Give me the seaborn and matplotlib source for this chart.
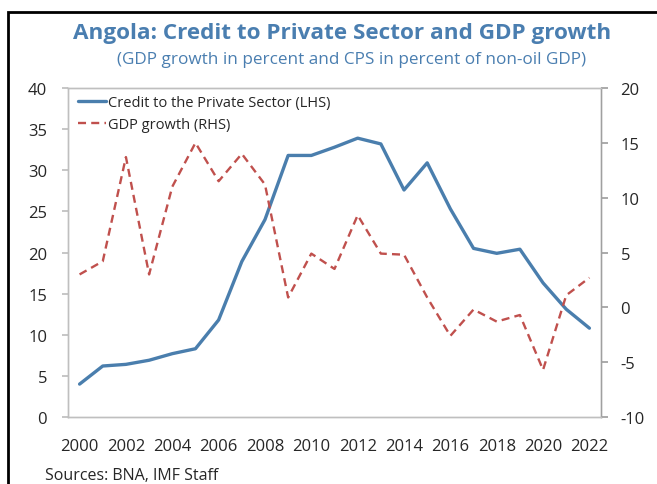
import matplotlib
matplotlib.use("Agg")
import matplotlib.pyplot as plt
import seaborn as sns
import pandas as pd
import numpy as np
from matplotlib.patches import Rectangle

years = [str(y) for y in range(2000, 2023)]
cps = [4.0, 6.2, 6.4, 6.9, 7.7, 8.3, 11.8, 18.9, 24.0, 31.8, 31.8, 32.8, 33.9,
       33.2, 27.6, 30.9, 25.3, 20.5, 19.9, 20.4, 16.3, 13.1, 10.8]
gdp = [3.0, 4.2, 13.7, 3.0, 11.0, 15.0, 11.5, 14.0, 11.2, 0.9, 4.9, 3.5, 8.4,
       4.9, 4.8, 0.9, -2.6, -0.2, -1.3, -0.7, -5.7, 1.1, 2.7]

title = "Angola: Credit to Private Sector and GDP growth"
subtitle = "(GDP growth in percent and CPS in percent of non-oil GDP)"
source = "Sources: BNA, IMF Staff"
lab_cps = "Credit to the Private Sector (LHS)"
lab_gdp = "GDP growth (RHS)"

sns.set_theme(style="white")
plt.rcParams['font.family'] = ['Open Sans', 'DejaVu Sans']
plt.rcParams['axes.unicode_minus'] = False

blue = "#4A7EAD"
red = "#C0504D"
tcol = "#4A7EB0"
txt = "#262626"
spc = "#BFBFBF"

df = pd.DataFrame({"year": years, "cps": cps, "gdp": gdp, "idx": np.arange(len(years))})

fig = plt.figure(figsize=(6.57, 4.85), dpi=100)
ax = fig.add_axes([68/657, 1-418/485, (601-68)/657, (418-89)/485])
ax2 = ax.twinx()

sns.lineplot(data=df, x="idx", y="cps", ax=ax, color=blue, lw=2.4, label=lab_cps, legend=False)
sns.lineplot(data=df, x="idx", y="gdp", ax=ax2, color=red, lw=1.7, linestyle=(0, (3.4, 2.2)), label=lab_gdp, legend=False)

ax.set_xlim(-0.5, len(years)-0.5)
ax.set_ylim(0, 40)
ax2.set_ylim(-10, 20)
ax.set_yticks(range(0, 41, 5))
ax2.set_yticks(range(-10, 21, 5))
ax.set_xticks(np.arange(0, len(years), 2))
ax.set_xticklabels(years[::2])
ax.set_xticks(np.arange(-0.5, len(years), 1), minor=True)
ax.tick_params(axis="x", which="major", length=0, pad=15, labelsize=12, labelcolor=txt)
ax.tick_params(axis="x", which="minor", length=6, direction="in", color=spc, width=1)
ax.tick_params(axis="y", length=4, direction="out", color=spc, labelsize=12, labelcolor=txt, left=True, pad=11)
ax2.tick_params(axis="y", length=5, direction="out", color="#A0A0A0", labelsize=12, labelcolor=txt, right=True, pad=9)
ax.set_xlabel("")
ax.set_ylabel("")
ax2.set_ylabel("")
for a in (ax, ax2):
    for s in a.spines.values():
        s.set_color(spc)
        s.set_linewidth(1)
ax2.spines["right"].set_color("#A0A0A0")

h1, l1 = ax.get_legend_handles_labels()
h2, l2 = ax2.get_legend_handles_labels()
leg = ax2.legend(h1 + h2, l1 + l2, loc="upper left", frameon=False, fontsize=10.5,
                 handlelength=1.9, handletextpad=0.15, borderaxespad=0.1,
                 bbox_to_anchor=(0.005, 1.0), labelspacing=0.45)
for t in leg.get_texts():
    t.set_color(txt)

fig.text(342/657, 1-33/485, title, ha="center", va="center", fontsize=16.2,
         fontweight="bold", color=tcol)
fig.text(352/657, 1-60/485, subtitle, ha="center", va="center", fontsize=12.3, color=tcol)
fig.text(45/657, 1-476/485, source, ha="left", va="center", fontsize=11.5, color=txt)

fig.add_artist(Rectangle((8/657, -0.1), 1.2, 1-13/485+0.1, transform=fig.transFigure,
                         fill=False, edgecolor="black", lw=2))

fig.savefig("out.png", dpi=100)
